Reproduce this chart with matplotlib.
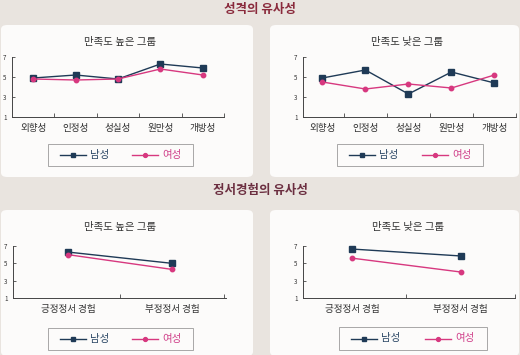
import matplotlib
matplotlib.use("Agg")
import matplotlib.pyplot as plt
from matplotlib.patches import FancyBboxPatch
from matplotlib.lines import Line2D

plt.rcParams['font.family'] = ['Noto Sans CJK KR', 'DejaVu Sans']

# data
traits = ["외향성", "인정성", "성실성", "원만성", "개방성"]
emotions = ["긍정정서 경험", "부정정서 경험"]
yticks = [1, 3, 5, 7]

trait_high_male = [4.9, 5.2, 4.8, 6.3, 5.9]
trait_high_female = [4.8, 4.7, 4.8, 5.8, 5.2]
trait_low_male = [4.9, 5.7, 3.3, 5.5, 4.4]
trait_low_female = [4.5, 3.8, 4.3, 3.9, 5.2]

emo_high_male = [6.3, 5.0]
emo_high_female = [6.0, 4.3]
emo_low_male = [6.65, 5.85]
emo_low_female = [5.6, 4.0]

high_title = "만족도 높은 그룹"
low_title = "만족도 낮은 그룹"
sec1 = "성격의 유사성"
sec2 = "정서경험의 유사성"

MALE = "#1f3a56"
FEMALE = "#d7387f"
BG = "#e9e4df"
W, H = 520, 355

fig = plt.figure(figsize=(W / 100, H / 100), dpi=100)
fig.patch.set_facecolor(BG)

def px(x0, y0, x1, y1):
    # pixel box (top-left origin) -> figure fraction rect
    return [x0 / W, 1 - y1 / H, (x1 - x0) / W, (y1 - y0) / H]

def panel(x0, y0, x1, y1):
    r = px(x0, y0, x1, y1)
    p = FancyBboxPatch((r[0], r[1]), r[2], r[3], boxstyle="round,pad=0,rounding_size=0.012",
                       transform=fig.transFigure, facecolor="#fcfbfa", edgecolor="none", zorder=-5)
    fig.patches.append(p)

panel(1, 25, 253, 177)
panel(270, 25, 519, 177)
panel(1, 210, 253, 356)
panel(270, 210, 519, 356)

fig.text(260 / W, 1 - 9 / H, sec1, ha="center", va="center", fontsize=9, color="#8a2a3c", fontweight="bold")
fig.text(260 / W, 1 - 191 / H, sec2, ha="center", va="center", fontsize=9, color="#6b2e40", fontweight="bold")

def chart(rect, cats, male, female, xlim, title, title_xy, legend_box):
    ax = fig.add_axes(rect)
    ax.set_facecolor("none")
    ax.set_zorder(2)
    x = list(range(len(cats)))
    ax.plot(x, male, color=MALE, lw=1.0, marker="s", ms=3.8, mfc=MALE, mec=MALE, zorder=3, clip_on=False)
    ax.plot(x, female, color=FEMALE, lw=1.0, marker="o", ms=3.2, mfc=FEMALE, mec=FEMALE, zorder=3, clip_on=False)
    ax.set_xlim(*xlim)
    ax.set_ylim(1, 7)
    ax.set_yticks(yticks)
    ax.set_yticklabels([str(v) for v in yticks], fontsize=4.5, color="#333333")
    ax.set_xticks([i + 0.5 for i in x])
    ax.set_xticklabels([])
    ax.set_xticks(x, minor=True)
    ax.set_xticklabels(cats, minor=True, fontsize=6.9, color="#333333")
    ax.tick_params(axis="x", which="minor", length=0, pad=5)
    ax.tick_params(axis="x", which="major", direction="in", length=3, width=0.6, color="#444444")
    ax.tick_params(axis="y", direction="in", length=2.5, width=0.6, color="#444444", pad=4)
    for s in ["top", "right"]:
        ax.spines[s].set_visible(False)
    for s in ["left", "bottom"]:
        ax.spines[s].set_linewidth(0.7)
        ax.spines[s].set_color("#444444")
    fig.text(title_xy[0] / W, 1 - title_xy[1] / H, title, ha="center", va="center",
             fontsize=7.5, color="#333333")
    # legend
    lx0, ly0, lx1, ly1 = legend_box
    lr = px(lx0, ly0, lx1, ly1)
    box = plt.Rectangle((lr[0], lr[1]), lr[2], lr[3], transform=fig.transFigure,
                        facecolor="none", edgecolor="#9a9a9a", lw=0.6)
    fig.patches.append(box)
    cy = 1 - (ly0 + ly1) / 2 / H
    wdt = lx1 - lx0
    for i, (lab, col, mk, tc) in enumerate([("남성", MALE, "s", "#2a4664"), ("여성", FEMALE, "o", "#d0408a")]):
        sx = lx0 + wdt * (0.08 + 0.5 * i)
        ex = sx + wdt * 0.18
        fig.lines.append(Line2D([sx / W, ex / W], [cy, cy], transform=fig.transFigure, color=col, lw=1.0))
        fig.lines.append(Line2D([(sx + ex) / 2 / W], [cy], transform=fig.transFigure, color=col,
                                marker=mk, ms=3.2 if mk == "s" else 2.8, mfc=col, mec=col, lw=0))
        fig.text((ex + 4) / W, cy, lab, ha="left", va="center", fontsize=7.5, color=tc)
    return ax

chart(px(12, 57, 224, 117), traits, trait_high_male, trait_high_female, (-0.5, 4.5),
      high_title, (120, 42), (48, 144, 193, 166))
chart(px(303, 57, 516, 117), traits, trait_low_male, trait_low_female, (-0.45, 4.5),
      low_title, (407, 42), (337, 144, 483, 166))
chart(px(13, 246, 226, 298), emotions, emo_high_male, emo_high_female, (-0.53, 1.52),
      high_title, (120, 227), (48, 328, 193, 350))
chart(px(303, 246, 515, 298), emotions, emo_low_male, emo_low_female, (-0.45, 1.46),
      low_title, (408, 227), (339, 327, 487, 350))

fig.savefig("out.png", dpi=100, facecolor=BG)
